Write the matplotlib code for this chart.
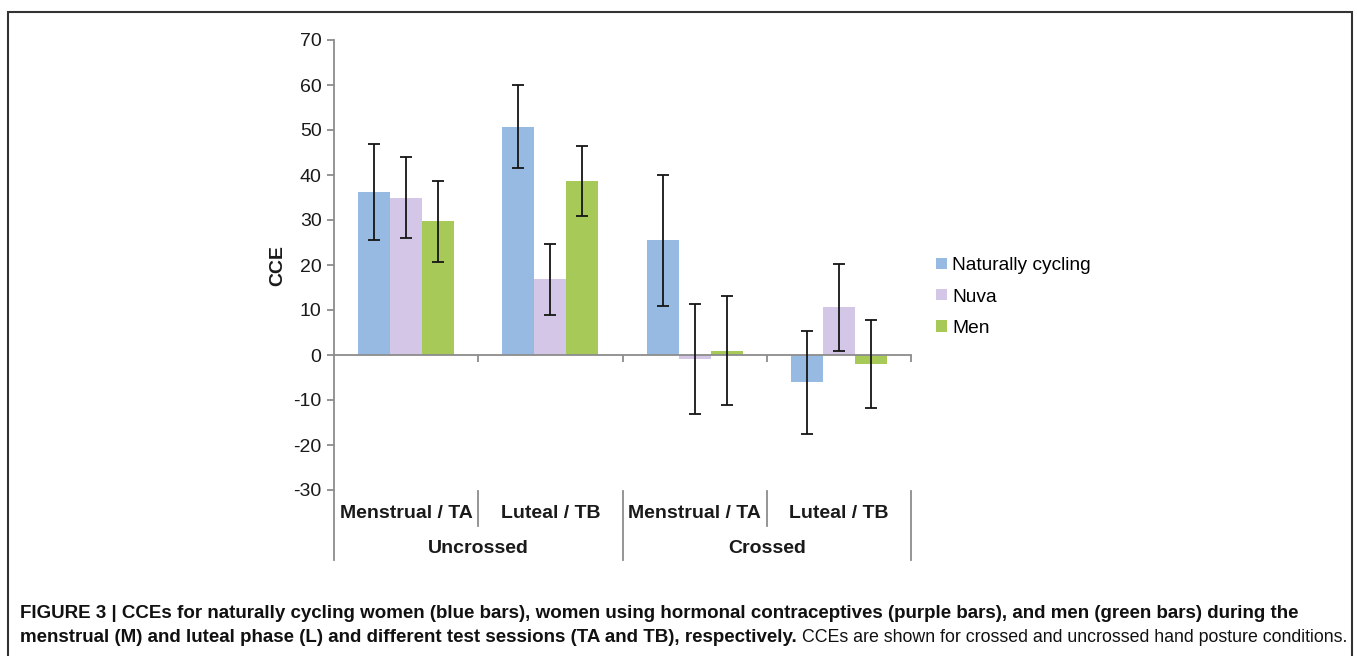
import matplotlib
matplotlib.use("Agg")
import matplotlib.pyplot as plt
import matplotlib.transforms as mtransforms
from matplotlib.patches import Patch, Rectangle
import numpy as np

plt.rcParams['font.family'] = ['Liberation Sans', 'DejaVu Sans']

# ---- data ----
categories = ["Menstrual / TA", "Luteal / TB", "Menstrual / TA", "Luteal / TB"]
groups = ["Uncrossed", "Crossed"]
series_names = ["Naturally cycling", "Nuva", "Men"]
natural = [36.2, 50.7, 25.5, -6.1]
natural_err = [10.6, 9.2, 14.5, 11.4]
nuva = [35.0, 16.8, -0.8, 10.6]
nuva_err = [9.1, 7.8, 12.2, 9.7]
men = [29.7, 38.7, 1.0, -2.0]
men_err = [9.0, 7.8, 12.2, 9.7]
yticks = list(range(-30, 71, 10))
colors = ["#97BAE2", "#D3C6E6", "#A6C958"]

caption_bold1 = ("FIGURE 3 | CCEs for naturally cycling women (blue bars), women using hormonal "
                 "contraceptives (purple bars), and men (green bars) during the")
caption_bold2 = ("menstrual (M) and luteal phase (L) and different test sessions (TA and TB), "
                 "respectively.")
caption_reg2 = "CCEs are shown for crossed and uncrossed hand posture conditions."

W, H = 1357, 656
fig = plt.figure(figsize=(W / 100, H / 100), dpi=100)
ax = fig.add_axes([334 / W, 1 - 490 / H, (911 - 334) / W, 450 / H])

x = np.arange(len(categories))
bw = 0.222
vals = [natural, nuva, men]
errs = [natural_err, nuva_err, men_err]
for i, (v, e, c) in enumerate(zip(vals, errs, colors)):
    ax.bar(x + (i - 1) * bw, v, width=bw, color=c, edgecolor='none', zorder=2)
    ax.errorbar(x + (i - 1) * bw, v, yerr=e, fmt='none', ecolor='#151515',
                elinewidth=1.3, capsize=4.5, capthick=1.3, zorder=3)

ax.set_xlim(-0.5, len(categories) - 0.5)
ax.set_ylim(min(yticks), max(yticks))
ax.set_yticks(yticks)
ax.set_yticklabels([str(t) for t in yticks])

gray = '#8C8C8C'
for s in ['top', 'right']:
    ax.spines[s].set_visible(False)
ax.spines['left'].set_color(gray)
ax.spines['left'].set_linewidth(1.3)
ax.spines['bottom'].set_position(('data', 0))
ax.spines['bottom'].set_color(gray)
ax.spines['bottom'].set_linewidth(1.3)
ax.set_xticks(x + 0.5)
ax.set_xticklabels([])
ax.tick_params(axis='x', direction='out', length=5, width=1.3, color=gray)
ax.tick_params(axis='y', direction='out', length=5, width=1.3, color=gray,
               labelsize=14, labelcolor='#1a1a1a', pad=4)

ax.text(-0.098, 0.5, "CCE", rotation=90, ha='center', va='center',
        transform=ax.transAxes, fontsize=14, fontweight='bold', color='#1a1a1a')

# multi-level category axis
trans = mtransforms.blended_transform_factory(ax.transData, ax.transAxes)
for xi, lab in zip(x, categories):
    ax.text(xi, -0.053, lab, transform=trans, ha='center', va='center',
            fontsize=14, fontweight='bold', color='#1a1a1a')
n_per = len(categories) // len(groups)
for gi, g in enumerate(groups):
    cx = gi * n_per + (n_per - 1) / 2
    ax.text(cx, -0.129, g, transform=trans, ha='center', va='center',
            fontsize=14, fontweight='bold', color='#1a1a1a')
bounds = np.arange(len(categories) + 1) - 0.5
for j, b in enumerate(bounds):
    outer = (j % n_per == 0)
    ax.plot([b, b], [-0.002, -0.156 if outer else -0.08], transform=trans,
            color=gray, lw=1.3, clip_on=False)

# legend
handles = [Patch(facecolor=c, edgecolor='none') for c in colors]
fig.legend(handles, series_names, loc='center left',
           bbox_to_anchor=(936 / W, 1 - 297 / H), frameon=False,
           fontsize=13.8, handlelength=0.55, handleheight=0.55,
           handletextpad=0.3, labelspacing=0.74, borderpad=0, borderaxespad=0)

# outer border
fig.patches.append(Rectangle((8 / W, -0.1), (1352 - 8) / W, 0.1 + (1 - 12 / H),
                             transform=fig.transFigure, fill=False,
                             edgecolor='#333333', lw=1.5, clip_on=False))

# caption
fig.canvas.draw()
r = fig.canvas.get_renderer()
t1 = fig.text(20 / W, 1 - 613 / H, caption_bold1, fontsize=12, fontweight='bold',
              ha='left', va='center', color='#111111')
w1 = t1.get_window_extent(r).width
fs = 12 * (1275 / w1)
t1.set_fontsize(fs)
t2 = fig.text(20 / W, 1 - 638 / H, caption_bold2, fontsize=fs, fontweight='bold',
              ha='left', va='center', color='#111111')
e2 = t2.get_window_extent(r)
t3 = fig.text((e2.x1 + 5) / W, 1 - 638 / H, caption_reg2, fontsize=fs,
              ha='left', va='center', color='#111111')
e3 = t3.get_window_extent(r)
target = 1349 - (e2.x1 + 5)
t3.set_fontsize(fs * target / e3.width)

fig.savefig("out.png", dpi=100, facecolor='white')
